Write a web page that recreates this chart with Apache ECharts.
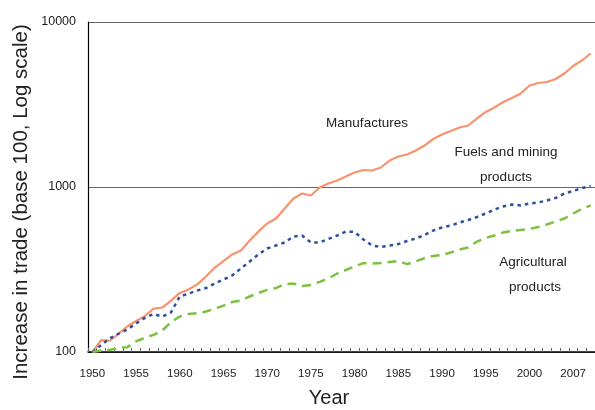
<!DOCTYPE html>
<html>
<head>
<meta charset="utf-8">
<script src="https://cdn.jsdelivr.net/npm/echarts@6/dist/echarts.min.js"></script>
<style>
html,body{margin:0;padding:0;background:#fff;}
#chart{width:595px;height:410px;}
</style>
</head>
<body>
<div id="chart"></div>
<script>
// Categories: years 1950..2007
var years = [];
for (var y = 1950; y <= 2007; y++) years.push(String(y));

// Tick labels shown on the x axis (index -> text)
var xTickLabels = {0:'1950',5:'1955',10:'1960',15:'1965',20:'1970',25:'1975',30:'1980',35:'1985',40:'1990',45:'1995',50:'2000',55:'2007'};
var yTickValues = [100, 1000, 10000];

var manufactures = [100,118,117,129,143,154,165,183,186,205,228,239,257,287,325,355,390,412,474,538,601,644,741,852,913,888,993,1050,1095,1158,1224,1268,1259,1313,1447,1530,1574,1664,1784,1954,2081,2185,2294,2359,2602,2848,3033,3275,3463,3688,4123,4269,4329,4513,4874,5412,5844,6444];
var fuels = [100,110,121,129,137,149,161,170,164,174,217,226,236,244,260,275,291,321,354,390,424,442,461,501,508,461,461,484,508,538,534,481,442,433,442,451,471,487,512,545,568,584,609,631,658,691,731,762,783,773,794,806,828,858,913,946,986,1014];
var agricultural = [100,102,103,106,107,116,122,127,135,152,164,170,172,176,183,191,201,205,217,228,238,244,258,260,251,255,266,279,299,314,330,346,344,346,351,356,341,354,371,382,387,401,418,430,467,491,508,530,541,549,557,572,593,618,644,691,736,773];

var seriesNames = ['Manufactures', 'Fuels and mining products', 'Agricultural products'];

var FONT = '"Liberation Sans", Arial, sans-serif';
var chart = echarts.init(document.getElementById('chart'), null, {renderer:'canvas'});
chart.setOption({
  animation: false,
  backgroundColor: '#fff',
  grid: {left: 88, right: 0, top: 22, bottom: 58, containLabel: false},
  xAxis: {
    type: 'category',
    data: years,
    boundaryGap: true,
    axisLine: {show: true, lineStyle: {color: '#000', width: 1.5}},
    axisTick: {show: true, inside: true, length: 4, interval: 0, lineStyle: {color: '#666'}},
    axisLabel: {
      interval: function (i) { return xTickLabels[i] !== undefined; },
      formatter: function (v, i) { return xTickLabels[i] || ''; },
      fontFamily: FONT, fontSize: 11.5, color: '#222', margin: 16
    },
    splitLine: {show: false}
  },
  yAxis: {
    type: 'log',
    logBase: 10,
    min: 100,
    max: 10000,
    axisLine: {show: true, lineStyle: {color: '#000', width: 1.2}},
    axisTick: {show: false},
    axisLabel: {fontFamily: FONT, fontSize: 12.5, color: '#222', margin: 12,
      formatter: function (v) { return yTickValues.indexOf(Math.round(v)) >= 0 ? String(Math.round(v)) : ''; }},
    splitLine: {show: true, lineStyle: {color: '#666', width: 1}}
  },
  series: [
    {name: seriesNames[0], type: 'line', data: manufactures, symbol: 'none', smooth: false,
     lineStyle: {color: '#F7936D', width: 2.2}},
    {name: seriesNames[1], type: 'line', data: fuels, symbol: 'none',
     lineStyle: {color: '#2F4FA2', width: 2.5, type: [3.5, 4]}},
    {name: seriesNames[2], type: 'line', data: agricultural, symbol: 'none',
     lineStyle: {color: '#7DC143', width: 2.5, type: [9, 6]}}
  ],
  graphic: [
    {type: 'text', style: {text: 'Increase in trade (base 100, Log scale)', x: 0, y: 0, align: 'center', verticalAlign: 'middle', font: '20.5px ' + FONT, fill: '#222'}, x: 21, y: 202, rotation: Math.PI / 2},
    {type: 'text', style: {text: 'Year', x: 329, y: 398, align: 'center', verticalAlign: 'middle', font: '20px ' + FONT, fill: '#222'}},
    {type: 'text', style: {text: 'Manufactures', x: 367, y: 123, align: 'center', verticalAlign: 'middle', font: '13.5px ' + FONT, fill: '#222'}},
    {type: 'text', style: {text: 'Fuels and mining', x: 506, y: 152, align: 'center', verticalAlign: 'middle', font: '13.5px ' + FONT, fill: '#222'}},
    {type: 'text', style: {text: 'products', x: 506, y: 177, align: 'center', verticalAlign: 'middle', font: '13.5px ' + FONT, fill: '#222'}},
    {type: 'text', style: {text: 'Agricultural', x: 533, y: 262, align: 'center', verticalAlign: 'middle', font: '13.5px ' + FONT, fill: '#222'}},
    {type: 'text', style: {text: 'products', x: 535, y: 287, align: 'center', verticalAlign: 'middle', font: '13.5px ' + FONT, fill: '#222'}}
  ]
});
</script>
</body>
</html>
